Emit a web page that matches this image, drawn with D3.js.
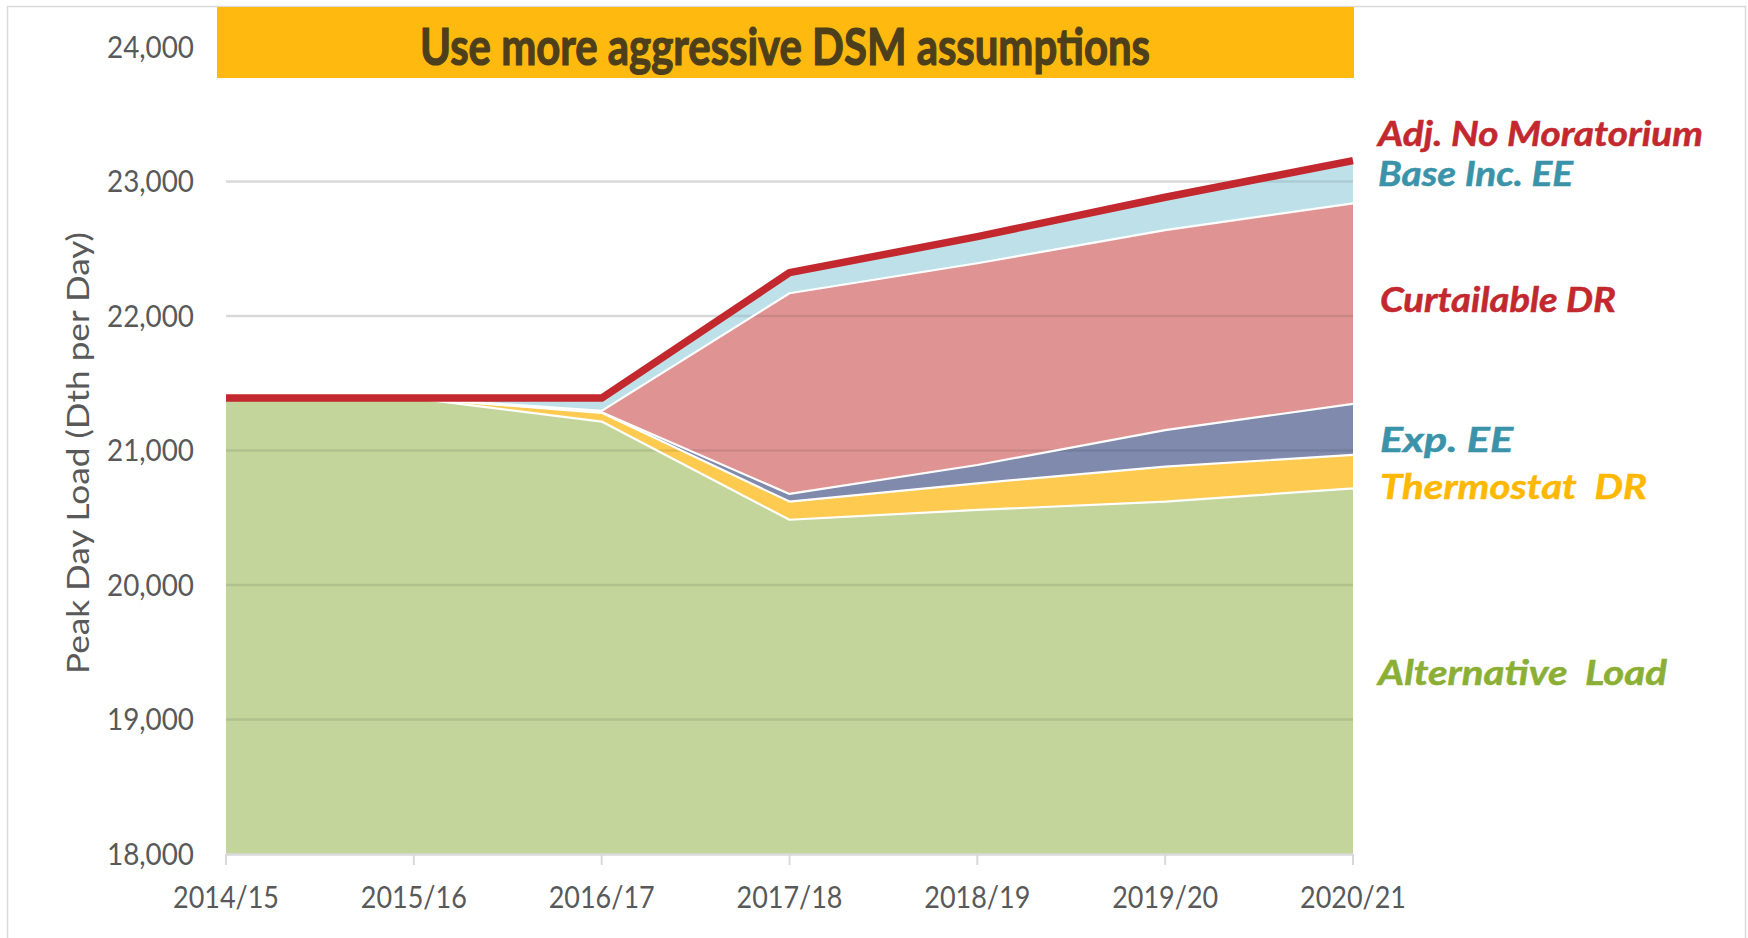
<!DOCTYPE html>
<html>
<head>
<meta charset="utf-8">
<script src="https://cdn.jsdelivr.net/npm/d3@7"></script>
<style>
  html, body { margin: 0; padding: 0; background: #fff; }
  svg { display: block; }
</style>
</head>
<body>
<svg id="chart" width="1748" height="938"></svg>
<script>
// ---- Data ----
const years = ["2014/15", "2015/16", "2016/17", "2017/18", "2018/19", "2019/20", "2020/21"];
const alternativeLoad = [21390, 21390, 21215, 20485, 20558, 20620, 20719];
const thermostatDR    = [0, 0, 65, 135, 198, 260, 248];
const expEE           = [0, 0, 5, 57, 136, 272, 379];
const curtailableDR   = [0, 0, 10, 1492, 1500, 1487, 1492];
const baseIncEE       = [0, 0, 95, 153, 198, 244, 317];
const adjNoMoratorium = [21390, 21390, 21390, 22322, 22590, 22883, 23155];
const yTicks = [18000, 19000, 20000, 21000, 22000, 23000, 24000];
const seriesNames = ["Alternative Load", "Thermostat DR", "Exp. EE", "Curtailable DR", "Base Inc. EE"];
const titleText = "Use more aggressive DSM assumptions";
const yTitle = "Peak Day Load (Dth per Day)";

// ---- Setup ----
const svg = d3.select("#chart");
const x = d3.scalePoint().domain(years).range([226, 1353]);
const y = d3.scaleLinear().domain([18000, 24000]).range([854, 47]).clamp(true);

const fillColors = ["#C3D59B", "#FFCA50", "#7F8AAD", "#DF9493", "#BEE0E8"];
const seriesArrays = [alternativeLoad, thermostatDR, expEE, curtailableDR, baseIncEE];
const rows = years.map((yr, i) => {
  const r = { year: yr };
  seriesNames.forEach((n, k) => r[n] = seriesArrays[k][i]);
  return r;
});
const stacked = d3.stack().keys(seriesNames)(rows);

const area = d3.area()
  .x(d => x(d.data.year))
  .y0(d => y(d[0]))
  .y1(d => y(d[1]));

// clip path covering the filled region (for gridlines showing through)
const totalArea = d3.area()
  .x(d => x(d.data.year))
  .y0(y(18000))
  .y1(d => y(d[1]));
svg.append("defs").append("clipPath").attr("id", "areaClip")
  .append("path").attr("d", totalArea(stacked[stacked.length - 1]));

// outer border
svg.append("rect").attr("x", 7.5).attr("y", 6.5).attr("width", 1738).attr("height", 960)
  .attr("fill", "none").attr("stroke", "#D9D9D9").attr("stroke-width", 1.5);

// gridlines (under)
const gridVals = yTicks.filter(v => v !== 18000 && v !== 24000);
svg.append("g").selectAll("line").data(gridVals).join("line")
  .attr("x1", x(years[0])).attr("x2", x(years[years.length - 1]))
  .attr("y1", d => y(d)).attr("y2", d => y(d))
  .attr("stroke", "#D9D9D9").attr("stroke-width", 2.5);

// areas
svg.append("g").selectAll("path").data(stacked).join("path")
  .attr("d", area)
  .attr("fill", (d, i) => fillColors[i]);

// gridlines showing through the areas
svg.append("g").attr("clip-path", "url(#areaClip)")
  .selectAll("line").data(gridVals).join("line")
  .attr("x1", x(years[0])).attr("x2", x(years[years.length - 1]))
  .attr("y1", d => y(d)).attr("y2", d => y(d))
  .attr("stroke", "#000").attr("stroke-opacity", 0.09).attr("stroke-width", 2.5);

// white separators on top of each layer (except the top one)
const topLine = d3.line().x(d => x(d.data.year)).y(d => y(d[1]));
svg.append("g").selectAll("path").data(stacked.slice(0, 4)).join("path")
  .attr("d", topLine)
  .attr("fill", "none").attr("stroke", "#fff").attr("stroke-width", 2.2)
  .attr("stroke-linejoin", "round");

// x axis line
svg.append("line").attr("x1", x(years[0])).attr("x2", x(years[years.length - 1]))
  .attr("y1", y(18000) + 0.5).attr("y2", y(18000) + 0.5)
  .attr("stroke", "#D9D9D9").attr("stroke-width", 2.5);

// x ticks
svg.append("g").selectAll("line").data(years).join("line")
  .attr("x1", d => x(d)).attr("x2", d => x(d))
  .attr("y1", y(18000)).attr("y2", y(18000) + 11)
  .attr("stroke", "#D9D9D9").attr("stroke-width", 2);

// Adj. No Moratorium line
const adjLine = d3.line().x((d, i) => x(years[i])).y(d => y(d));
svg.append("path").datum(adjNoMoratorium)
  .attr("d", adjLine)
  .attr("fill", "none").attr("stroke", "#C3282E").attr("stroke-width", 7.5)
  .attr("stroke-linejoin", "round");

// y tick labels
svg.append("g").selectAll("text").data(yTicks).join("text")
  .attr("x", 194).attr("y", d => y(d) + 10.5)
  .attr("text-anchor", "end")
  .attr("font-family", "Lato, sans-serif").attr("font-size", 30)
  .attr("fill", "#595959")
  .attr("textLength", 87).attr("lengthAdjust", "spacingAndGlyphs")
  .text(d => d3.format(",")(d));

// x tick labels
svg.append("g").selectAll("text").data(years).join("text")
  .attr("x", d => x(d)).attr("y", 908)
  .attr("text-anchor", "middle")
  .attr("font-family", "Lato, sans-serif").attr("font-size", 31)
  .attr("fill", "#595959")
  .attr("textLength", 106).attr("lengthAdjust", "spacingAndGlyphs")
  .text(d => d);

// y axis title
svg.append("text")
  .attr("transform", "translate(89,453) rotate(-90)")
  .attr("text-anchor", "middle")
  .attr("font-family", "Lato, sans-serif").attr("font-size", 31)
  .attr("fill", "#595959")
  .attr("textLength", 442).attr("lengthAdjust", "spacingAndGlyphs")
  .text(yTitle);

// title banner
svg.append("rect").attr("x", 217).attr("y", 7).attr("width", 1137).attr("height", 71)
  .attr("fill", "#FFB90F");
svg.append("text")
  .attr("x", 785).attr("y", 65)
  .attr("text-anchor", "middle")
  .attr("font-family", "Lato, sans-serif").attr("font-weight", "bold").attr("font-size", 51)
  .attr("fill", "#4D3F1C").attr("stroke", "#4D3F1C").attr("stroke-width", 1.2)
  .attr("textLength", 730).attr("lengthAdjust", "spacingAndGlyphs")
  .text(titleText);

// series labels
const labels = [
  { t: "Adj. No Moratorium", x: 1378, y: 146, w: 325, c: "#C3282E" },
  { t: "Base Inc. EE",       x: 1378, y: 186, w: 195, c: "#3A93A8" },
  { t: "Curtailable DR",     x: 1380, y: 312, w: 236, c: "#C3282E" },
  { t: "Exp. EE",            x: 1380, y: 452, w: 133, c: "#3A93A8" },
  { t: "Thermostat  DR",     x: 1380, y: 499, w: 267, c: "#FFB800" },
  { t: "Alternative  Load",  x: 1378, y: 685, w: 289, c: "#8BAF35" }
];
svg.append("g").selectAll("text").data(labels).join("text")
  .attr("x", d => d.x).attr("y", d => d.y)
  .attr("font-family", "Lato, sans-serif").attr("font-weight", "bold")
  .attr("font-style", "italic").attr("font-size", 35)
  .attr("fill", d => d.c).attr("stroke", d => d.c).attr("stroke-width", 0.5)
  .attr("textLength", d => d.w).attr("lengthAdjust", "spacingAndGlyphs")
  .style("white-space", "pre")
  .text(d => d.t);
</script>
</body>
</html>
